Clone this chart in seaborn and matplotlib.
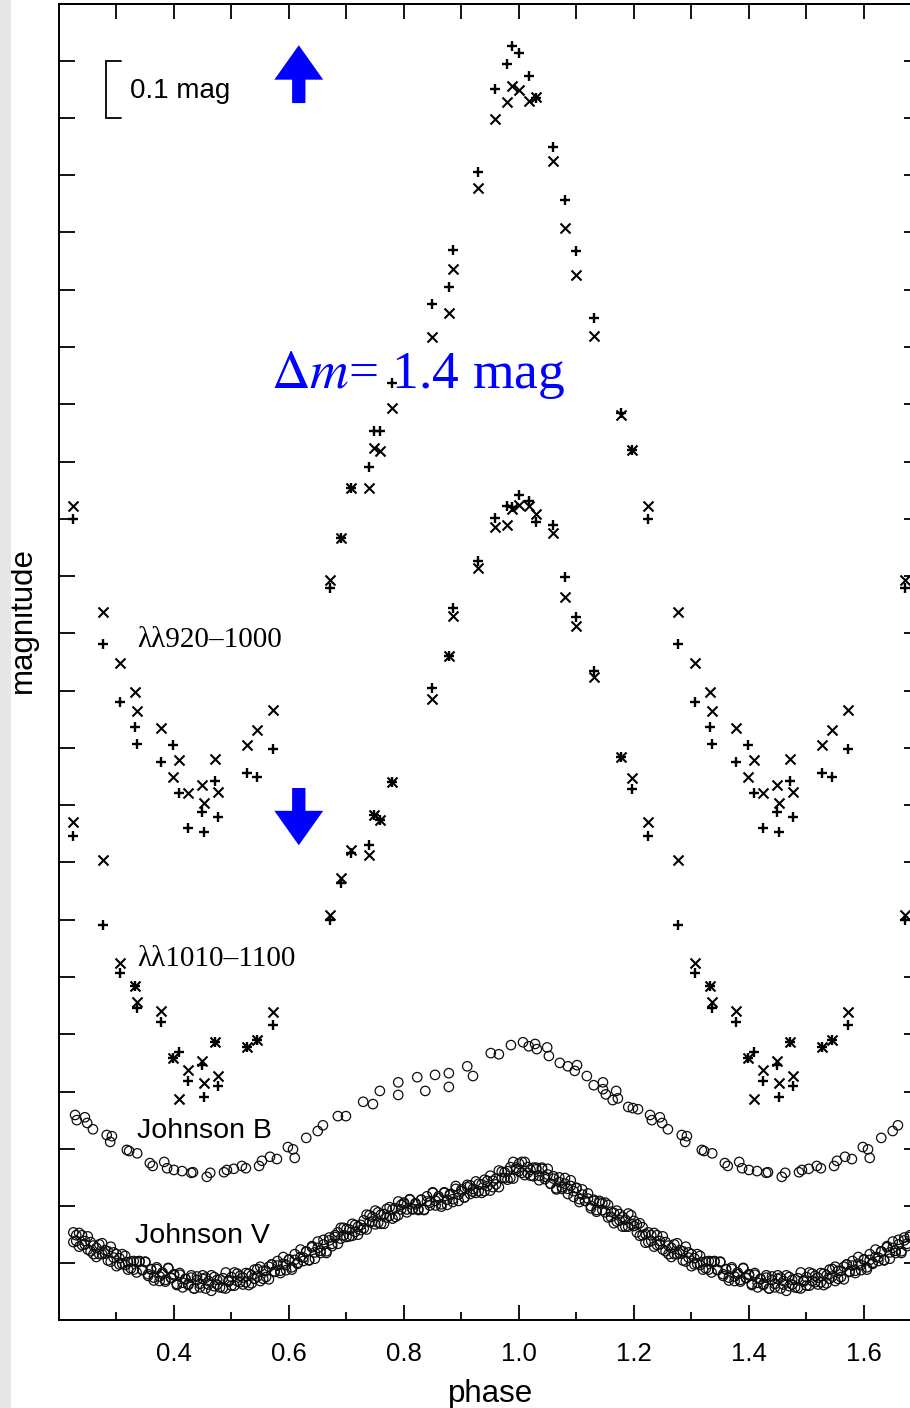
import numpy as np
import pandas as pd
import matplotlib
matplotlib.use("Agg")
import matplotlib.pyplot as plt
import seaborn as sns
from matplotlib.ticker import FixedLocator, FormatStrFormatter
from matplotlib.patches import Rectangle

# ---------------- data (one phase cycle; repeated at phase+1 inside the x range) ----------------
# far-UV spectra: shared phases, two measurements (+ and x) per band
fuv_phase = [0.224, 0.276, 0.306, 0.332, 0.336, 0.377, 0.398, 0.409, 0.424, 0.449,
             0.452, 0.471, 0.477, 0.527, 0.544, 0.572, 0.671, 0.690, 0.708, 0.740,
             0.748, 0.759, 0.780, 0.849, 0.878, 0.885, 0.928, 0.958, 0.979, 0.987,
             1.000, 1.017, 1.030, 1.059, 1.080, 1.099, 1.130, 1.178, 1.196]
fuv920_plus = [0.801, 1.019, 1.120, 1.164, 1.194, 1.225, 1.195, 1.279, 1.339, 1.312,
               1.347, 1.257, 1.321, 1.244, 1.250, 1.202, 0.921, 0.834, 0.747, 0.709,
               0.646, 0.646, 0.562, 0.424, 0.396, 0.330, 0.194, 0.049, 0.005, -0.026,
               -0.014, 0.026, 0.065, 0.150, 0.243, 0.332, 0.450, 0.616, 0.679]
fuv920_cross = [0.777, 0.963, 1.052, 1.103, 1.136, 1.166, 1.251, 1.222, 1.279, 1.265,
                1.297, 1.220, 1.277, 1.195, 1.169, 1.133, 0.907, 0.834, 0.747, 0.747,
                0.677, 0.682, 0.606, 0.482, 0.440, 0.363, 0.222, 0.101, 0.073, 0.045,
                0.052, 0.070, 0.063, 0.176, 0.293, 0.375, 0.480, 0.619, 0.679]
fuv1010_plus = [1.354, 1.510, 1.593, 1.616, 1.654, 1.679, 1.742, 1.731, 1.782, 1.754,
                1.810, 1.714, 1.791, 1.722, 1.710, 1.684, 1.501, 1.436, 1.384, 1.370,
                1.318, 1.326, 1.260, 1.096, 1.040, 0.955, 0.873, 0.798, 0.777, 0.780,
                0.759, 0.768, 0.806, 0.810, 0.902, 0.972, 1.065, 1.216, 1.271]
fuv1010_cross = [1.330, 1.396, 1.576, 1.616, 1.644, 1.660, 1.742, 1.813, 1.763, 1.747,
                 1.785, 1.714, 1.773, 1.722, 1.710, 1.661, 1.492, 1.428, 1.379, 1.387,
                 1.318, 1.326, 1.260, 1.115, 1.040, 0.970, 0.885, 0.815, 0.810, 0.782,
                 0.775, 0.777, 0.791, 0.825, 0.937, 0.988, 1.077, 1.216, 1.253]

# Johnson B
b_phase = [0.228, 0.231, 0.245, 0.249, 0.259, 0.283, 0.289, 0.292, 0.318, 0.322,
           0.336, 0.358, 0.363, 0.383, 0.388, 0.400, 0.414, 0.430, 0.433, 0.457,
           0.463, 0.487, 0.492, 0.504, 0.518, 0.525, 0.548, 0.553, 0.567, 0.579,
           0.598, 0.607, 0.610, 0.630, 0.650, 0.659, 0.685, 0.699, 0.729, 0.746,
           0.758, 0.790, 0.790, 0.823, 0.837, 0.854, 0.878, 0.878, 0.910, 0.920,
           0.951, 0.965, 0.986, 1.007, 1.017, 1.028, 1.031, 1.049, 1.052, 1.071,
           1.085, 1.097, 1.101, 1.118, 1.130, 1.146, 1.146, 1.151, 1.163, 1.169,
           1.172, 1.190, 1.198, 1.207]
b_mag = [1.841, 1.850, 1.845, 1.855, 1.866, 1.876, 1.888, 1.878, 1.902, 1.904,
         1.908, 1.925, 1.930, 1.923, 1.934, 1.937, 1.939, 1.942, 1.941, 1.949,
         1.942, 1.941, 1.937, 1.935, 1.930, 1.934, 1.930, 1.921, 1.914, 1.918,
         1.897, 1.901, 1.916, 1.881, 1.869, 1.859, 1.843, 1.843, 1.818, 1.822,
         1.799, 1.784, 1.806, 1.775, 1.799, 1.771, 1.768, 1.792, 1.756, 1.773,
         1.733, 1.735, 1.719, 1.714, 1.721, 1.717, 1.726, 1.723, 1.738, 1.750,
         1.756, 1.764, 1.754, 1.773, 1.789, 1.784, 1.796, 1.805, 1.815, 1.799,
         1.812, 1.827, 1.829, 1.831]

# Johnson V (two runs sampled at the same phases)
v_phase = [0.225, 0.230, 0.235, 0.240, 0.245, 0.250, 0.255, 0.260, 0.265, 0.270,
           0.275, 0.280, 0.285, 0.290, 0.295, 0.300, 0.305, 0.310, 0.315, 0.320,
           0.325, 0.330, 0.335, 0.340, 0.345, 0.350, 0.355, 0.360, 0.365, 0.370,
           0.375, 0.380, 0.385, 0.390, 0.395, 0.400, 0.405, 0.410, 0.415, 0.420,
           0.425, 0.430, 0.435, 0.440, 0.445, 0.450, 0.455, 0.460, 0.465, 0.470,
           0.475, 0.480, 0.485, 0.490, 0.495, 0.500, 0.505, 0.510, 0.515, 0.520,
           0.525, 0.530, 0.535, 0.540, 0.545, 0.550, 0.555, 0.560, 0.565, 0.570,
           0.575, 0.580, 0.585, 0.590, 0.595, 0.600, 0.605, 0.610, 0.615, 0.620,
           0.625, 0.630, 0.635, 0.640, 0.645, 0.650, 0.655, 0.660, 0.665, 0.670,
           0.675, 0.680, 0.685, 0.690, 0.695, 0.700, 0.705, 0.710, 0.715, 0.720,
           0.725, 0.730, 0.735, 0.740, 0.745, 0.750, 0.755, 0.760, 0.765, 0.770,
           0.775, 0.780, 0.785, 0.790, 0.795, 0.800, 0.805, 0.810, 0.815, 0.820,
           0.825, 0.830, 0.835, 0.840, 0.845, 0.850, 0.855, 0.860, 0.865, 0.870,
           0.875, 0.880, 0.885, 0.890, 0.895, 0.900, 0.905, 0.910, 0.915, 0.920,
           0.925, 0.930, 0.935, 0.940, 0.945, 0.950, 0.955, 0.960, 0.965, 0.970,
           0.975, 0.980, 0.985, 0.990, 0.995, 1.000, 1.005, 1.010, 1.015, 1.020,
           1.025, 1.030, 1.035, 1.040, 1.045, 1.050, 1.055, 1.060, 1.065, 1.070,
           1.075, 1.080, 1.085, 1.090, 1.095, 1.100, 1.105, 1.110, 1.115, 1.120,
           1.125, 1.130, 1.135, 1.140, 1.145, 1.150, 1.155, 1.160, 1.165, 1.170,
           1.175, 1.180, 1.185, 1.190, 1.195, 1.200, 1.205, 1.210, 1.215, 1.220]
v_mag_run1 = [2.063, 2.051, 2.071, 2.051, 2.067, 2.053, 2.079, 2.069, 2.089, 2.067,
              2.084, 2.077, 2.095, 2.071, 2.090, 2.084, 2.102, 2.084, 2.103, 2.098,
              2.109, 2.096, 2.116, 2.096, 2.111, 2.097, 2.122, 2.111, 2.130, 2.107,
              2.123, 2.116, 2.132, 2.108, 2.125, 2.119, 2.136, 2.117, 2.134, 2.128,
              2.138, 2.125, 2.144, 2.123, 2.136, 2.121, 2.144, 2.131, 2.148, 2.124,
              2.137, 2.128, 2.143, 2.116, 2.132, 2.124, 2.139, 2.118, 2.133, 2.125,
              2.133, 2.118, 2.135, 2.111, 2.123, 2.106, 2.127, 2.113, 2.128, 2.102,
              2.115, 2.104, 2.117, 2.089, 2.103, 2.093, 2.107, 2.084, 2.099, 2.089,
              2.096, 2.079, 2.095, 2.070, 2.081, 2.062, 2.082, 2.067, 2.082, 2.055,
              2.066, 2.054, 2.066, 2.038, 2.051, 2.040, 2.053, 2.031, 2.045, 2.036,
              2.042, 2.025, 2.041, 2.016, 2.027, 2.008, 2.029, 2.015, 2.031, 2.005,
              2.017, 2.006, 2.019, 1.992, 2.006, 1.996, 2.011, 1.989, 2.005, 1.997,
              2.005, 1.989, 2.006, 1.983, 1.994, 1.977, 1.999, 1.986, 2.001, 1.976,
              1.989, 1.979, 1.993, 1.965, 1.980, 1.971, 1.985, 1.963, 1.979, 1.970,
              1.977, 1.961, 1.977, 1.954, 1.965, 1.947, 1.967, 1.952, 1.967, 1.940,
              1.951, 1.939, 1.951, 1.923, 1.936, 1.926, 1.942, 1.923, 1.942, 1.937,
              1.948, 1.936, 1.955, 1.935, 1.949, 1.935, 1.961, 1.952, 1.971, 1.950,
              1.967, 1.961, 1.979, 1.955, 1.974, 1.969, 1.988, 1.971, 1.991, 1.987,
              2.000, 1.989, 2.010, 1.991, 2.007, 1.994, 2.020, 2.010, 2.030, 2.008,
              2.025, 2.019, 2.036, 2.013, 2.031, 2.026, 2.046, 2.030, 2.051, 2.049]
v_mag_run2 = [2.046, 2.061, 2.047, 2.068, 2.061, 2.076, 2.063, 2.084, 2.073, 2.084,
              2.065, 2.083, 2.079, 2.097, 2.081, 2.105, 2.091, 2.101, 2.087, 2.111,
              2.097, 2.111, 2.097, 2.097, 2.112, 2.098, 2.119, 2.110, 2.125, 2.110,
              2.131, 2.119, 2.129, 2.109, 2.126, 2.121, 2.138, 2.120, 2.142, 2.127,
              2.136, 2.121, 2.144, 2.129, 2.142, 2.127, 2.125, 2.137, 2.121, 2.140,
              2.129, 2.142, 2.126, 2.144, 2.130, 2.139, 2.116, 2.131, 2.122, 2.137,
              2.117, 2.138, 2.121, 2.127, 2.110, 2.131, 2.113, 2.124, 2.106, 2.102,
              2.114, 2.096, 2.113, 2.101, 2.112, 2.094, 2.111, 2.094, 2.101, 2.076,
              2.090, 2.080, 2.094, 2.072, 2.092, 2.073, 2.078, 2.059, 2.079, 2.060,
              2.070, 2.051, 2.046, 2.057, 2.038, 2.054, 2.041, 2.052, 2.033, 2.050,
              2.033, 2.039, 2.015, 2.028, 2.019, 2.032, 2.011, 2.031, 2.014, 2.020,
              2.002, 2.022, 2.004, 2.016, 1.998, 1.994, 2.006, 1.988, 2.006, 1.995,
              2.007, 1.989, 2.007, 1.992, 1.999, 1.976, 1.991, 1.983, 1.997, 1.977,
              1.998, 1.981, 1.988, 1.970, 1.991, 1.974, 1.985, 1.967, 1.964, 1.975,
              1.957, 1.974, 1.962, 1.974, 1.956, 1.973, 1.956, 1.962, 1.938, 1.951,
              1.941, 1.954, 1.932, 1.952, 1.933, 1.939, 1.923, 1.946, 1.932, 1.947,
              1.933, 1.933, 1.947, 1.933, 1.953, 1.945, 1.961, 1.948, 1.969, 1.958,
              1.970, 1.951, 1.970, 1.965, 1.984, 1.968, 1.993, 1.980, 1.991, 1.978,
              2.004, 1.991, 2.007, 1.994, 1.995, 2.011, 1.998, 2.019, 2.012, 2.027,
              2.014, 2.036, 2.024, 2.036, 2.016, 2.035, 2.032, 2.052, 2.037, 2.064]

x_major_ticks = [0.4, 0.6, 0.8, 1.0, 1.2, 1.4, 1.6]

# ---------------- layout constants ----------------
XMIN, XMAX = 0.2, 1.6835
YTOP, YBOT = -0.099, 2.199


def fold(phase, mag):
    p = np.asarray(phase, float)
    m = np.asarray(mag, float)
    keep = p + 1.0 <= XMAX
    return np.concatenate([p, p[keep] + 1.0]), np.concatenate([m, m[keep]])


frames = []
for name, ph, mg in [("920+", fuv_phase, fuv920_plus), ("920x", fuv_phase, fuv920_cross),
                     ("1010+", fuv_phase, fuv1010_plus), ("1010x", fuv_phase, fuv1010_cross),
                     ("B", b_phase, b_mag), ("V", v_phase, v_mag_run1), ("V", v_phase, v_mag_run2)]:
    p, m = fold(ph, mg)
    frames.append(pd.DataFrame({"phase": p, "mag": m, "series": name}))
df = pd.concat(frames, ignore_index=True)

sns.set_theme(style="ticks", rc={"axes.edgecolor": "black", "xtick.color": "black",
                                 "ytick.color": "black", "axes.labelcolor": "black",
                                 "text.color": "black", "axes.linewidth": 1.4})
plt.rcParams["font.family"] = ["Liberation Sans", "DejaVu Sans"]
plt.rcParams["mathtext.fontset"] = "stix"
SERIF = ["Liberation Serif", "DejaVu Serif"]
BLUE = "#0000ff"

fig = plt.figure(figsize=(9.10, 14.08), dpi=100)
fig.patch.set_facecolor("white")
fig.patches.append(Rectangle((0, 0), 11 / 910, 1, transform=fig.transFigure,
                             facecolor="#e6e6e6", edgecolor="none", zorder=0))
ax = fig.add_axes([59 / 910, 1 - 1320 / 1408, (912 - 59) / 910, 1316 / 1408])
ax.set_facecolor("white")

plus = df[df.series.isin(["920+", "1010+"])]
cross = df[df.series.isin(["920x", "1010x"])]
circ = df[df.series.isin(["B", "V"])]

sns.scatterplot(data=circ, x="phase", y="mag", marker="o", s=46, facecolor="none",
                edgecolor="#0d0d0d", linewidth=0.9, ax=ax, legend=False, zorder=3)
sns.scatterplot(data=plus, x="phase", y="mag", marker="+", s=62, color="black",
                linewidth=1.7, ax=ax, legend=False, zorder=3)
sns.scatterplot(data=cross, x="phase", y="mag", marker="x", s=52, color="black",
                linewidth=1.5, ax=ax, legend=False, zorder=3)

ax.set_xlim(XMIN, XMAX)
ax.set_ylim(YBOT, YTOP)

ax.xaxis.set_major_locator(FixedLocator(x_major_ticks))
ax.xaxis.set_major_formatter(FormatStrFormatter("%.1f"))
ax.xaxis.set_minor_locator(FixedLocator([0.3, 0.5, 0.7, 0.9, 1.1, 1.3, 1.5]))
y_ticks = [round(0.1 * i, 1) for i in range(22)]
ax.yaxis.set_major_locator(FixedLocator(y_ticks))
ax.tick_params(axis="x", which="major", direction="in", length=10.8, width=1.3,
               labelsize=18.5, pad=15.5, top=False)
ax.tick_params(axis="x", which="minor", direction="in", length=5.8, width=1.3, top=False)
ax.tick_params(axis="y", which="major", direction="in", length=11.5, width=1.3,
               labelleft=False, right=False)

secx = ax.secondary_xaxis("top")
secx.xaxis.set_major_locator(FixedLocator([0.3, 0.4, 0.5, 0.6, 0.7, 0.8, 0.9, 1.0,
                                           1.1, 1.2, 1.3, 1.4, 1.5, 1.6]))
secx.tick_params(direction="in", length=10.8, width=1.3, labeltop=False)
secy = ax.secondary_yaxis("right")
secy.yaxis.set_major_locator(FixedLocator(y_ticks))
secy.tick_params(direction="in", length=5.8, width=1.3, labelright=False)

ax.set_xlabel("phase", fontsize=22.5)
ax.xaxis.set_label_coords(0.506, -0.0445)
ax.set_ylabel("magnitude", fontsize=22.5)
ax.yaxis.set_label_coords(-0.0246, 0.532)

# scale bar
ax.plot([0.3078, 0.2817, 0.2817, 0.3078], [0.0, 0.0, 0.1, 0.1], color="black", lw=1.3,
        solid_joinstyle="miter", zorder=4)
ax.text(0.3235, 0.066, "0.1 mag", fontsize=20, ha="left", va="baseline", zorder=5)

# band labels
ax.text(0.3357, 1.024, "λλ920–1000", fontsize=21, family=SERIF, ha="left", va="baseline", zorder=5)
ax.text(0.3357, 1.581, "λλ1010–1100", fontsize=21, family=SERIF, ha="left", va="baseline", zorder=5)
ax.text(0.3357, 1.881, "Johnson B", fontsize=20.5, ha="left", va="baseline", zorder=5)
ax.text(0.3320, 2.065, "Johnson V", fontsize=20.5, ha="left", va="baseline", zorder=5)

ax.text(0.5680, 0.572, r"$\Delta m$= 1.4 mag", fontsize=38.5, family=SERIF, color=BLUE,
        ha="left", va="baseline", zorder=2)

arrow_style = "simple,head_length=0.62,head_width=0.88,tail_width=0.24"
ax.annotate("", xy=(0.617, -0.027), xytext=(0.617, 0.074),
            arrowprops=dict(arrowstyle=arrow_style, color=BLUE, mutation_scale=40,
                            shrinkA=0, shrinkB=0, lw=0), zorder=5)
ax.annotate("", xy=(0.617, 1.370), xytext=(0.617, 1.270),
            arrowprops=dict(arrowstyle=arrow_style, color=BLUE, mutation_scale=40,
                            shrinkA=0, shrinkB=0, lw=0), zorder=5)

fig.savefig("out.png", dpi=100, facecolor="white")
